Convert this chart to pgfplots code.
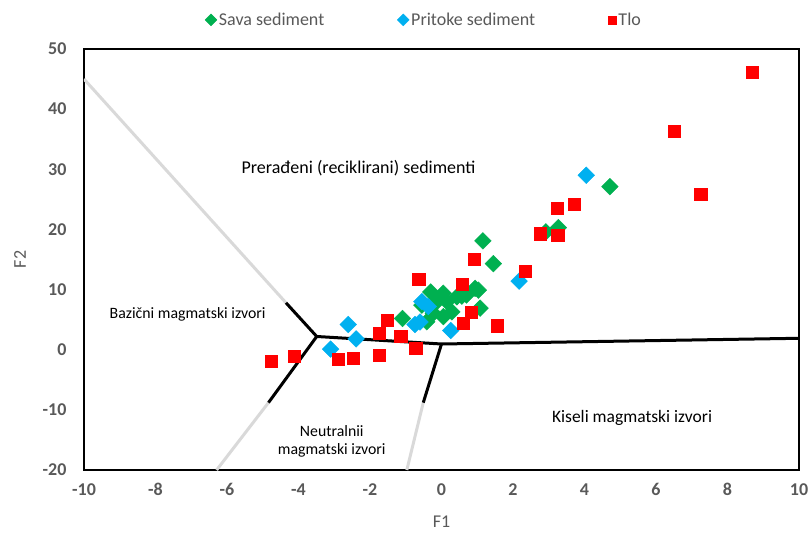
\documentclass[border=0pt]{standalone}
\usepackage{fontspec}
\setmainfont{Carlito}
\usepackage{pgfplots}
\pgfplotsset{compat=1.18}
\definecolor{savag}{HTML}{00B050}
\definecolor{pritb}{HTML}{00B0F0}
\definecolor{tlor}{HTML}{FF0000}
\definecolor{txtg}{HTML}{595959}
\definecolor{lineg}{HTML}{D9D9D9}

\begin{document}
\begin{tikzpicture}[font=\fontsize{18bp}{21bp}\selectfont]
\begin{axis}[
  name=ax,
  width=715bp, height=421bp, scale only axis,
  xmin=-10, xmax=10, ymin=-20, ymax=50,
  xtick={-10,-8,...,10}, ytick={-20,-10,...,50},
  major tick length=0pt,
  /pgf/number format/assume math mode=true,
  tick label style={font=\fontsize{18bp}{21bp}\selectfont\bfseries, text=txtg},
  yticklabel style={xshift=-14bp},
  xticklabel style={yshift=-10bp},
  xlabel={F1}, ylabel={F2},
  label style={text=txtg},
  xlabel style={at={(rel axis cs:0.5,-0.1235)}, anchor=center},
  ylabel style={at={(rel axis cs:-0.0895,0.5)}, anchor=center},
  axis line style={black, line width=1.2bp},
  legend columns=3,
  legend style={draw=none, at={(0.4755,1.069)}, anchor=center, text=txtg,
    /tikz/every even column/.append style={column sep=71bp}},
  legend image code/.code={\draw[mark repeat=2,mark phase=2,#1,mark size=4.2bp]
    plot coordinates {(0cm,0cm) (0.25cm,0cm) (0.62cm,0cm)};},
]
% boundary lines of the discriminant diagram
\addplot[lineg, line width=3bp, forget plot] coordinates {(-10,45.0) (-4.35,7.8)};
\addplot[lineg, line width=3bp, forget plot] coordinates {(-4.84,-8.8) (-6.29,-20)};
\addplot[lineg, line width=3bp, forget plot] coordinates {(-0.51,-8.8) (-0.97,-20)};
\addplot[black, line width=3bp, forget plot] coordinates {(-4.35,7.8) (-3.49,2.2) (-4.84,-8.8)};
\addplot[black, line width=3bp, forget plot] coordinates {(-3.49,2.2) (0.0,0.95) (10,1.9)};
\addplot[black, line width=3bp, forget plot] coordinates {(0.0,0.95) (-0.51,-8.8)};

% Sava sediment
\addplot[only marks, mark=square*, mark size=5.9bp, color=savag, mark options={rotate=45}] coordinates {
(-1.09,5.2) (-0.55,7.4) (-0.41,4.65) (-0.30,9.6) (-0.23,6.05) (-0.13,8.0)
(0.05,9.4) (0.05,5.5) (0.15,8.0) (0.29,6.3) (0.43,8.8) (0.57,8.9) (0.70,9.1)
(0.94,10.2) (1.03,9.9) (1.08,6.9) (1.16,18.1) (1.45,14.3) (2.92,19.6)
(3.27,20.3) (4.71,27.1)
};
\addlegendentry{Sava sediment}
% Pritoke sediment
\addplot[only marks, mark=square*, mark size=5.9bp, color=pritb, mark options={rotate=45}] coordinates {
(-3.10,0.1) (-2.61,4.2) (-2.39,1.8) (-0.74,4.2) (-0.60,4.6) (-0.55,8.0)
(-0.37,7.2) (0.26,3.2) (2.17,11.4) (4.05,29.0)
};
\addlegendentry{Pritoke sediment}
% Tlo
\addplot[only marks, mark=square*, mark size=6.1bp, color=tlor] coordinates {
(-4.77,-1.9) (-4.13,-1.05) (-2.90,-1.55) (-2.48,-1.35) (-1.75,-0.9) (-1.75,2.8)
(-1.53,4.9) (-1.14,2.3) (-0.72,0.2) (-0.64,11.7) (0.60,4.4) (0.57,10.9)
(0.82,6.3) (0.92,15.0) (1.55,4.0) (2.35,13.0) (2.77,19.3) (3.23,23.5)
(3.25,19.0) (3.71,24.2) (6.50,36.3) (7.25,25.8) (8.69,46.2)
};
\addlegendentry{Tlo}

\node at (axis cs:-2.32,30.2) {Prerađeni (reciklirani) sedimenti};
\node[font=\fontsize{15.8bp}{19bp}\selectfont] at (axis cs:-7.10,5.9) {Bazični magmatski izvori};
\node[align=center, font=\fontsize{15.8bp}{18.4bp}\selectfont] at (axis cs:-3.07,-15.26) {Neutralnii\\magmatski izvori};
\node[font=\fontsize{17.5bp}{21bp}\selectfont] at (axis cs:5.33,-11.35) {Kiseli magmatski izvori};
\end{axis}
\pgfresetboundingbox
\path ([xshift=-84bp,yshift=-64bp]ax.south west) rectangle ([xshift=10bp,yshift=49bp]ax.north east);
\end{tikzpicture}
\end{document}
